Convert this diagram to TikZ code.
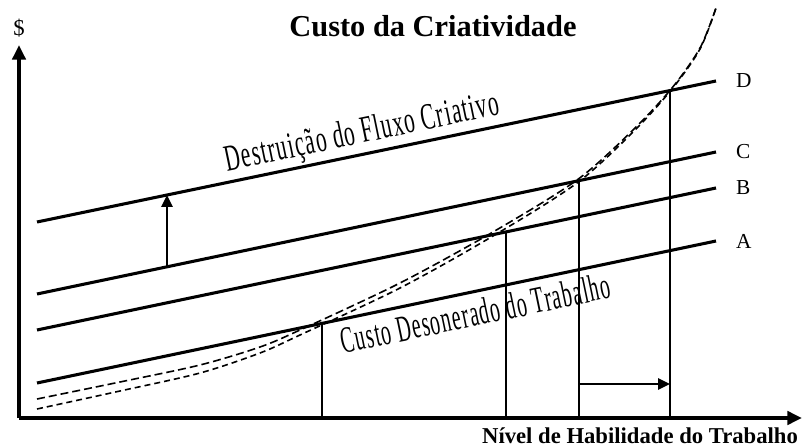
\documentclass[tikz,border=0pt]{standalone}
\usepackage{fontspec}
\setmainfont{Liberation Serif}
\usetikzlibrary{calc}
\usetikzlibrary{arrows.meta}

\begin{document}
\begin{tikzpicture}[x=0.75pt,y=0.75pt]
    \tikzstyle{axis}=[-{Triangle[width=10pt,length=11pt]},line width=2.6pt,color=black]
    \tikzstyle{cost line}=[line width=2.3pt,color=black]
    \tikzstyle{guideline}=[line width=1.4pt,color=black]
    \tikzstyle{move arrow}=[-{Triangle[width=8.5pt,length=9pt]},line width=1.4pt,color=black]
    \tikzstyle{curve upper}=[line width=1.2pt,dash pattern=on 6pt off 3pt]
    \tikzstyle{curve lower}=[line width=1.2pt,dash pattern=on 4.5pt off 3pt]
    \tikzstyle{line name}=[black,right=14pt,inner sep=0pt,font=\fontsize{16}{19}\selectfont]
    \tikzstyle{line text}=[black,sloped,inner sep=0pt,font=\fontsize{28}{32}\selectfont\addfontfeatures{LetterSpace=6}]

    \useasboundingbox (0,0) rectangle (802,446);

	\coordinate (O) at (19,28);

	\coordinate (A_0) at (37,63);
	\coordinate (A_1) at (716,205);
	\coordinate (B_0) at (37,116);
	\coordinate (B_1) at (716,258);
	\coordinate (C_0) at (37,152);
	\coordinate (C_1) at (716,294);
	\coordinate (D_0) at (37,224);
	\coordinate (D_1) at (716,365);

	\coordinate (h_0) at (579,62);
	\coordinate (h_1) at (670,62);

    % Axis
	\draw[style=axis] (O) -- (802,28);
	\draw[style=axis] (O) -- (19,401);
	\node[font=\fontsize{17}{20}\selectfont] (dollar) at (19,418) {\$};
	\node[anchor=base,font=\fontsize{22.8}{27}\selectfont\bfseries] (title) at (433,409) {Custo da Criatividade};
	\node[anchor=base,font=\fontsize{17}{20}\selectfont\bfseries] (xlabel) at (640,3) {Nível de Habilidade do Trabalho};

    % Cost lines
	\draw[style=cost line] (A_0) -- (A_1) node[style=line name] (A) {A};
	\draw[style=cost line] (B_0) -- (B_1) node[style=line name] (B) {B};
	\draw[style=cost line] (C_0) -- (C_1) node[style=line name] (C) {C};
	\draw[style=cost line] (D_0) -- (D_1) node[style=line name] (D) {D};

	\path (D_0) -- (D_1) node[style=line text,pos=0.485,above=2.2pt] (flow) {\scalebox{0.57}[1]{Destruição do Fluxo Criativo}};
	\path (A_0) -- (A_1) node[style=line text,pos=0.639,below=6pt] (cost) {\scalebox{0.53}[1]{Custo Desonerado do Trabalho}};

    % Skill levels
	\draw[style=guideline] (322,28) -- ($(A_0)!0.4197!(A_1)$);
	\draw[style=guideline] (506,28) -- ($(B_0)!0.6907!(B_1)$);
	\draw[style=guideline] (579,28) -- ($(C_0)!0.7982!(C_1)$);
	\draw[style=guideline] (670,28) -- ($(D_0)!0.9323!(D_1)$);

	\draw[style=move arrow] ($(C_0)!0.1915!(C_1)$) -- ($(D_0)!0.1915!(D_1)$);
	\draw[style=move arrow] (h_0) -- (h_1);

    % Creativity cost curves
	\draw[style=curve upper] plot[smooth] coordinates {(37,47) (120,64) (200,81) (260,99) (300,116) (400,163) (493,214) (577,266) (633,316) (672,358) (700,398) (716,438)};
	\draw[style=curve lower] plot[smooth] coordinates {(37,37) (120,55) (200,73) (260,93) (300,111) (400,158) (493,210) (577,263) (633,314) (672,357) (700,397) (716,438)};

\end{tikzpicture}
\end{document}
